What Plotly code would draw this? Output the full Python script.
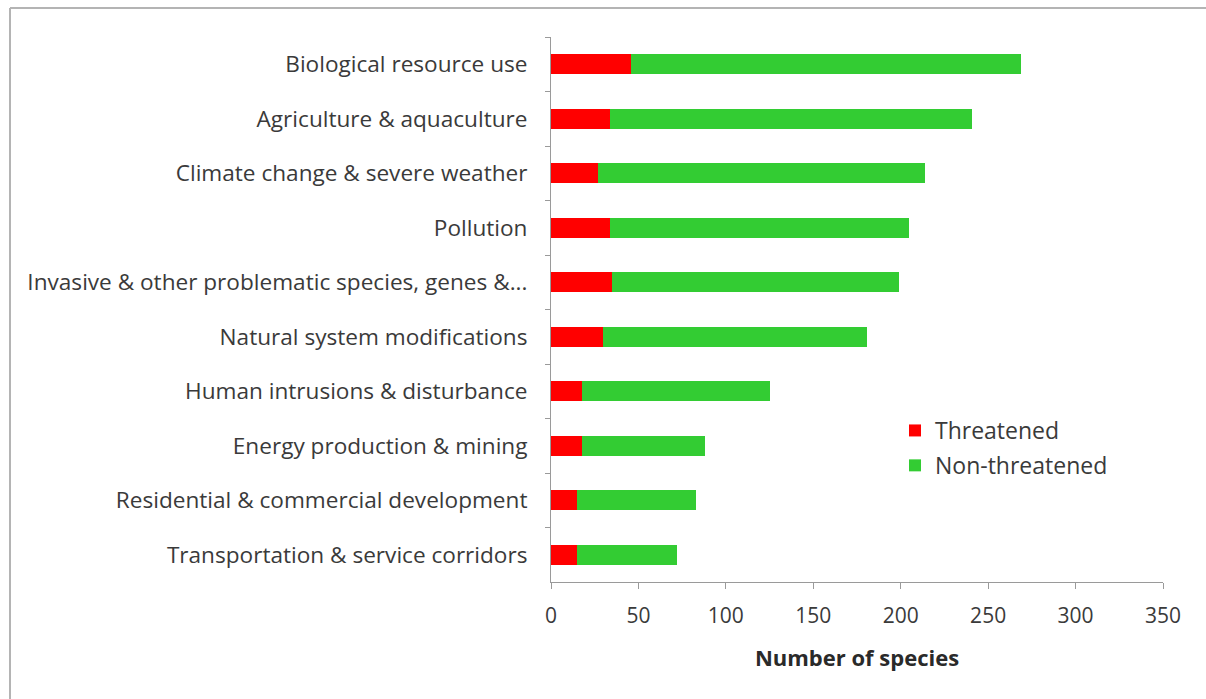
import plotly.graph_objects as go

# Threat categories, listed top to bottom
categories = [
    "Biological resource use",
    "Agriculture & aquaculture",
    "Climate change & severe weather",
    "Pollution",
    "Invasive & other problematic species, genes &...",
    "Natural system modifications",
    "Human intrusions & disturbance",
    "Energy production & mining",
    "Residential & commercial development",
    "Transportation & service corridors",
]
threatened = [46, 34, 27, 34, 35, 30, 18, 18, 15, 15]
non_threatened = [223, 207, 187, 171, 164, 151, 107, 70, 68, 57]

x_ticks = [0, 50, 100, 150, 200, 250, 300, 350]

W, H = 1206, 699
L, R, T, B = 551, 43, 37, 117
pw, ph = W - L - R, H - T - B


def px(x):
    return (x - L) / pw


def py(y):
    return (H - B - y) / ph


font_family = "'Open Sans', 'Noto Sans', sans-serif"
text_color = "#3a3a3a"
axis_color = "#9a9a9a"

fig = go.Figure()
fig.add_trace(go.Bar(
    y=categories, x=threatened, orientation="h", name="Threatened",
    legendgroup="a",
    marker=dict(color="#ff0000", line=dict(width=0)),
))
fig.add_trace(go.Bar(
    y=categories, x=non_threatened, orientation="h", name="Non-threatened",
    legendgroup="b",
    marker=dict(color="#33cc33", line=dict(width=0)),
))

fig.update_layout(
    width=W, height=H,
    margin=dict(l=L, r=R, t=T, b=B),
    paper_bgcolor="white", plot_bgcolor="white",
    barmode="stack", bargap=0.63,
    font=dict(family=font_family, color=text_color, size=22),
    showlegend=True,
    legend=dict(
        x=px(895), y=py(409), xanchor="left", yanchor="top",
        traceorder="grouped", font=dict(size=23, color=text_color),
        bgcolor="rgba(0,0,0,0)", itemwidth=30, tracegroupgap=2,
    ),
    xaxis=dict(
        range=[0, 350], tickvals=x_ticks, ticktext=[str(v) for v in x_ticks],
        showgrid=False, zeroline=False,
        showline=True, linecolor=axis_color, linewidth=1,
        ticks="outside", ticklen=6, tickcolor=axis_color,
        tickfont=dict(size=21, color=text_color), ticklabelstandoff=9,
        title=dict(text="<b>Number of species</b>", font=dict(size=22, color="#2a2a2a"), standoff=22),
    ),
    yaxis=dict(
        categoryorder="array", categoryarray=categories, autorange="reversed",
        showgrid=False, zeroline=False,
        showline=True, linecolor=axis_color, linewidth=1,
        ticks="outside", ticklen=5, tickcolor=axis_color, tickson="boundaries",
        tickfont=dict(size=22.6, color=text_color), ticklabelstandoff=18,
    ),
    shapes=[
        dict(type="line", xref="paper", yref="paper",
             x0=px(10), x1=px(W), y0=py(8), y1=py(8),
             line=dict(color="#b4b4b4", width=2)),
        dict(type="line", xref="paper", yref="paper",
             x0=px(10), x1=px(10), y0=py(8), y1=py(H),
             line=dict(color="#b4b4b4", width=2)),
    ],
)

fig.write_html("out.html")
